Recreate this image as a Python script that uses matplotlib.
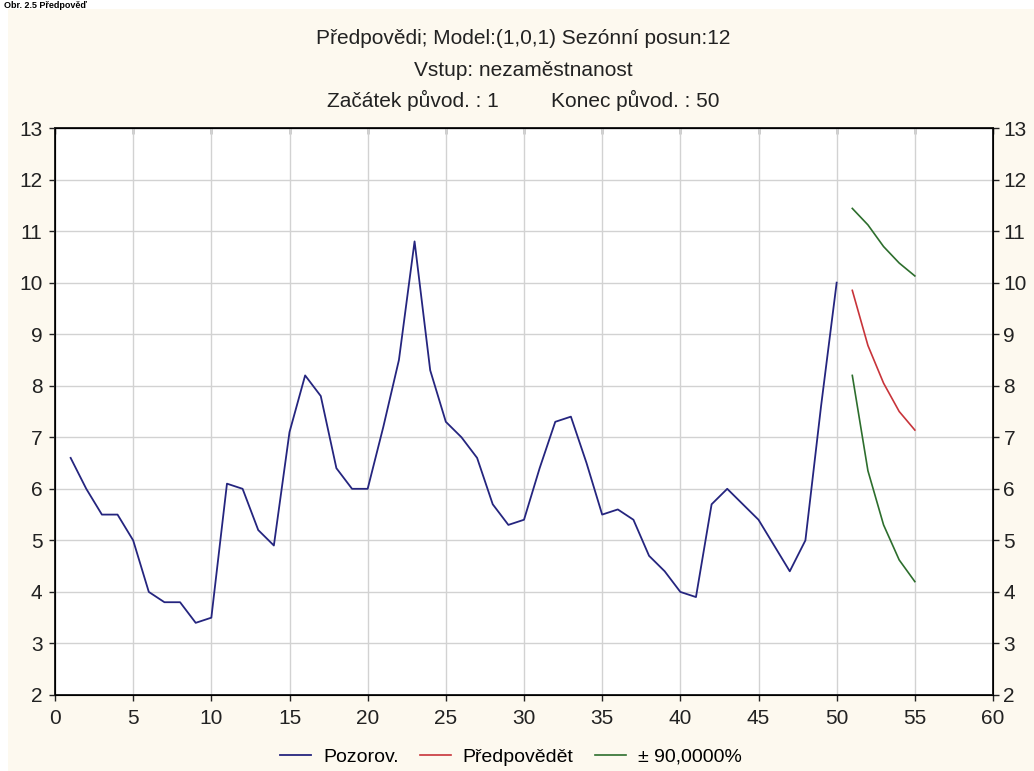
import matplotlib.pyplot as plt
from matplotlib.patches import Rectangle

plt.rcParams['font.family'] = ['Liberation Sans', 'DejaVu Sans']

# Observed series (unemployment), cases 1..50
obs_x = list(range(1, 51))
obs_y = [6.6, 6.0, 5.5, 5.5, 5.0, 4.0, 3.8, 3.8, 3.4, 3.5,
         6.1, 6.0, 5.2, 4.9, 7.1, 8.2, 7.8, 6.4, 6.0, 6.0,
         7.2, 8.5, 10.8, 8.3, 7.3, 7.0, 6.6, 5.7, 5.3, 5.4,
         6.4, 7.3, 7.4, 6.5, 5.5, 5.6, 5.4, 4.7, 4.4, 4.0,
         3.9, 5.7, 6.0, 5.7, 5.4, 4.9, 4.4, 5.0, 7.6, 10.0]

# Forecast and 90% limits, cases 51..55
fc_x = [51, 52, 53, 54, 55]
fc_y = [9.85, 8.78, 8.05, 7.5, 7.14]
upper = [11.44, 11.12, 10.7, 10.38, 10.13]
lower = [8.2, 6.35, 5.3, 4.62, 4.2]

x_ticks = list(range(0, 61, 5))
y_ticks = list(range(2, 14))

W, H = 1034, 771
fig = plt.figure(figsize=(W / 100, H / 100), dpi=100, facecolor='white')

# cream panel behind the chart
fig.patches.append(Rectangle((8 / W, 0), 1 - 8 / W, (H - 9) / H,
                             transform=fig.transFigure, facecolor='#fdf9ef',
                             edgecolor='none', zorder=-10))

# caption squeezed into the white strip at the top
fig.text(4 / W, 1 - 1 / H, 'Obr. 2.5 Předpověď', ha='left', va='top',
         fontsize=6.5, fontweight='bold', color='black')

ax = fig.add_axes([55 / W, (H - 695) / H, (993 - 55) / W, (695 - 128) / H])
ax.set_facecolor('white')

ax.plot(obs_x, obs_y, color='#25257f', lw=1.3, label='Pozorov.')
ax.plot(fc_x, fc_y, color='#c8343a', lw=1.2, label='Předpovědět')
ax.plot(fc_x, upper, color='#2d6e2d', lw=1.2, label='± 90,0000%')
ax.plot(fc_x, lower, color='#2d6e2d', lw=1.2)

ax.set_xlim(0, 60)
ax.set_ylim(2, 13)
ax.set_xticks(x_ticks)
ax.set_yticks(y_ticks)
ax.grid(True, color='#d2d2d2', lw=1.0)
ax.set_axisbelow(True)
for s in ax.spines.values():
    s.set_color('#222222')
    s.set_linewidth(1.4)

ax.tick_params(axis='both', direction='out', length=4, width=1,
               labelsize=15, colors='#222222')
ax.tick_params(axis='x', pad=6)
ax.tick_params(axis='y', pad=5)

# right-hand y scale
axr = ax.twinx()
axr.set_ylim(ax.get_ylim())
axr.set_yticks(y_ticks)
axr.tick_params(axis='y', direction='out', length=4, width=1,
                labelsize=15, colors='#222222', pad=3.5)

# top ticks pointing inward
axt = ax.secondary_xaxis('top')
axt.set_xticks(x_ticks)
axt.tick_params(direction='in', length=4, width=1, labeltop=False)

# titles
fs = 15
fig.text(523 / W, 1 - 38 / H, 'Předpovědi; Model:(1,0,1) Sezónní posun:12',
         ha='center', va='center', fontsize=fs, color='#222222')
fig.text(523 / W, 1 - 70 / H, 'Vstup: nezaměstnanost',
         ha='center', va='center', fontsize=fs, color='#222222')
fig.text(327 / W, 1 - 100 / H, 'Začátek původ. : 1',
         ha='left', va='center', fontsize=fs, color='#222222')
fig.text(551 / W, 1 - 100 / H, 'Konec původ. : 50',
         ha='left', va='center', fontsize=fs, color='#222222')

h, l = ax.get_legend_handles_labels()
fig.legend(h, l, loc='center', bbox_to_anchor=(511 / W, 1 - 757 / H), ncol=3,
           frameon=False, fontsize=14, handlelength=1.6, columnspacing=1.1,
           handletextpad=0.6)

fig.savefig('out.png', dpi=100, facecolor=fig.get_facecolor())
